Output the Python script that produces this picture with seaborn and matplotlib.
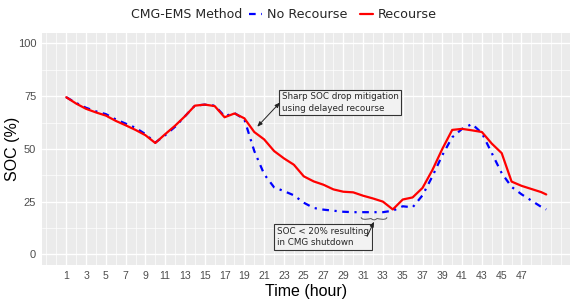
import numpy as np
import pandas as pd
import matplotlib
matplotlib.use("Agg")
import matplotlib.pyplot as plt
from matplotlib.path import Path
from matplotlib.patches import PathPatch
from matplotlib.lines import Line2D
import seaborn as sns

# data (hourly, last point at 49.5)
hours = list(range(1, 50)) + [49.5]
no_recourse = [74.5, 71.8, 69.5, 67.8, 66.5, 64.0, 62.0, 60.0, 57.0, 53.0,
               56.5, 60.5, 65.5, 70.5, 71.0, 70.5, 65.5, 67.0, 64.0, 49.0,
               38.0, 31.8, 30.0, 28.0, 24.5, 22.0, 21.2, 20.7, 20.2, 20.0,
               20.0, 20.0, 20.0, 20.7, 22.8, 22.3, 28.0, 37.0, 47.0, 55.5,
               59.5, 61.8, 57.5, 48.0, 38.5, 32.0, 28.5, 25.5, 22.5, 21.3]
recourse = [74.5, 71.5, 69.0, 67.3, 65.8, 63.3, 61.2, 59.0, 56.5, 52.8,
            57.0, 61.0, 65.5, 70.5, 71.0, 70.3, 65.0, 66.8, 64.5, 58.0,
            54.5, 49.0, 45.5, 42.5, 37.0, 34.6, 33.0, 30.8, 29.7, 29.4,
            27.8, 26.5, 25.0, 21.3, 26.0, 27.0, 31.5, 40.0, 50.0, 59.0,
            59.5, 58.8, 58.0, 52.5, 48.0, 34.5, 32.5, 31.0, 29.5, 28.4]
methods = ["No Recourse", "Recourse"]
colors = {"No Recourse": "#0000FF", "Recourse": "#FF0000"}
x_ticks = list(range(1, 48, 2))
y_ticks = [0, 25, 50, 75, 100]

df = pd.DataFrame({
    "hour": hours * 2,
    "soc": no_recourse + recourse,
    "method": ["No Recourse"] * len(hours) + ["Recourse"] * len(hours),
})

sns.set_theme(style="darkgrid")
plt.rcParams["font.family"] = ["Liberation Sans", "DejaVu Sans"]

fig = plt.figure(figsize=(5.74, 2.99), dpi=100)
ax = fig.add_axes([0.074, 0.114, 0.919, 0.776])
ax.set_facecolor("#EBEBEB")

sns.lineplot(data=df, x="hour", y="soc", hue="method", style="method",
             hue_order=methods, style_order=methods, palette=colors,
             dashes={"No Recourse": (3, 2.5, 1, 2.5), "Recourse": ""},
             linewidth=1.6, legend=False, ax=ax)

ax.set_xlim(-1.4, 51.9)
ax.set_ylim(-5, 105)
ax.set_xticks(x_ticks)
ax.set_xticks([i for i in range(-1, 52) if i not in x_ticks], minor=True)
ax.set_yticks(y_ticks)
ax.set_yticks([12.5, 37.5, 62.5, 87.5], minor=True)
ax.grid(which="major", color="white", linewidth=1.0)
ax.grid(which="minor", color="white", linewidth=0.5)
for s in ax.spines.values():
    s.set_visible(False)
ax.tick_params(axis="both", which="major", length=2.5, width=0.6, color="#333333",
               colors="#4D4D4D", pad=2)
ax.tick_params(axis="x", labelsize=7.6)
ax.tick_params(axis="y", labelsize=8)
ax.tick_params(which="minor", length=0)
ax.set_xlabel("Time (hour)", fontsize=11.5, color="black", labelpad=2)
ax.set_ylabel("SOC (%)", fontsize=11.5, color="black", va="center")
ax.yaxis.set_label_coords(-0.056, 0.5)

# annotations
box = dict(boxstyle="square,pad=0.3", fc="#F2F2F2", ec="#333333", lw=0.8)
ax.text(22.8, 72, "Sharp SOC drop mitigation\nusing delayed recourse",
        fontsize=6.3, ha="left", va="center", bbox=box, linespacing=1.3,
        family="DejaVu Sans")
ax.annotate("", xy=(20.3, 60.5), xytext=(22.6, 72),
            arrowprops=dict(arrowstyle="<|-|>,head_length=0.25,head_width=0.1",
                            color="#222222", lw=0.7, shrinkA=0, shrinkB=0))
ax.text(22.3, 8.2, "SOC < 20% resulting\nin CMG shutdown",
        fontsize=6.3, ha="left", va="center", bbox=box, linespacing=1.3,
        family="DejaVu Sans")
ax.annotate("", xy=(32.1, 15.5), xytext=(31.4, 8.5),
            arrowprops=dict(arrowstyle="-|>,head_length=0.25,head_width=0.1",
                            color="#222222", lw=0.7, shrinkA=0, shrinkB=0))
# curly brace under the flat part of the blue curve
bx0, bx1, by = 30.8, 33.4, 17.6
bm = (bx0 + bx1) / 2
verts = [(bx0, by), (bx0, by - 1.6), (bm - 0.3, by - 0.6), (bm, by - 1.9),
         (bm + 0.3, by - 0.6), (bx1, by - 1.6), (bx1, by)]
ax.add_patch(PathPatch(Path(verts, [Path.MOVETO, Path.CURVE3, Path.CURVE3,
                                    Path.CURVE3, Path.CURVE3, Path.CURVE3, Path.CURVE3]),
                       fc="none", ec="#555555", lw=0.7))

# legend on top
fig.text(131 / 574, 0.95, "CMG-EMS Method", fontsize=9, ha="left", va="center",
         family="DejaVu Sans")
handles = [Line2D([], [], color=colors["No Recourse"], lw=1.6, dashes=(3, 2.5, 1, 2.5)),
           Line2D([], [], color=colors["Recourse"], lw=1.6)]
fig.legend(handles, methods, loc="center left", bbox_to_anchor=(249 / 574, 0.95),
           ncol=2, frameon=False, handlelength=1.0, handletextpad=0.4,
           columnspacing=1.0, prop={"family": "DejaVu Sans", "size": 9.2},
           borderaxespad=0, borderpad=0)

fig.savefig("out.png", dpi=100)
